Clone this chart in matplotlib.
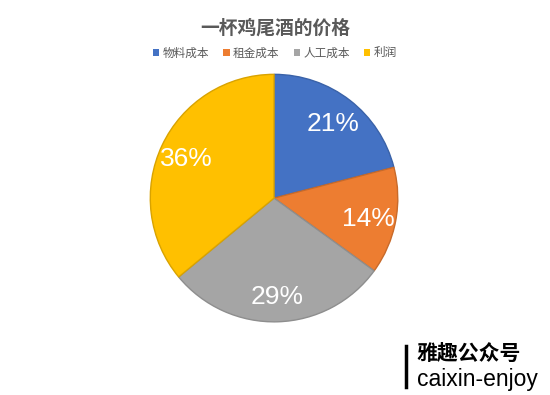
import matplotlib.pyplot as plt
from matplotlib.patches import Patch

plt.rcParams['font.family'] = ['Noto Sans CJK SC', 'DejaVu Sans']

categories = ['物料成本', '租金成本', '人工成本', '利润']
values = [21, 14, 29, 36]
colors = ['#4472C4', '#ED7D31', '#A5A5A5', '#FFC000']
edges = ['#3A62A8', '#C86A2A', '#8E8E8E', '#D9A300']

fig = plt.figure(figsize=(5.5, 3.95), dpi=100)
ax = fig.add_axes([0.271, 0.182, 0.4545, 0.633])

wedges, texts, autotexts = ax.pie(
    values, colors=colors, startangle=90, counterclock=False,
    autopct='%d%%', pctdistance=0.78,
    wedgeprops={'linewidth': 1.0},
    textprops={'color': 'white', 'fontsize': 19, 'family': 'Liberation Sans'})
for w, ec in zip(wedges, edges):
    w.set_edgecolor(ec)
for t in autotexts:
    t.set_va('center_baseline')
ax.set_aspect('equal')
ax.set_xlim(-1.01, 1.01)
ax.set_ylim(-1.01, 1.01)

fig.text(0.5, 0.928, '一杯鸡尾酒的价格', ha='center', va='center',
         fontsize=13.5, fontweight='bold', color='#595959')

handles = [Patch(facecolor=c, edgecolor='none') for c in colors]
fig.legend(handles, categories, loc='center', bbox_to_anchor=(0.5, 0.866),
           ncol=4, frameon=False, fontsize=8.4, labelcolor='#595959',
           handlelength=0.55, handleheight=0.55, handletextpad=0.3,
           columnspacing=1.2)

# 水印
fig.add_artist(plt.Line2D([0.738, 0.738], [0.02, 0.125], color='black', linewidth=2.5))
fig.text(0.758, 0.103, '雅趣公众号', ha='left', va='center',
         fontsize=15, fontweight='bold', color='black')
fig.text(0.758, 0.04, 'caixin-enjoy', ha='left', va='center',
         fontsize=16.5, color='black', family='Liberation Sans')

fig.savefig('out.png', dpi=100)
